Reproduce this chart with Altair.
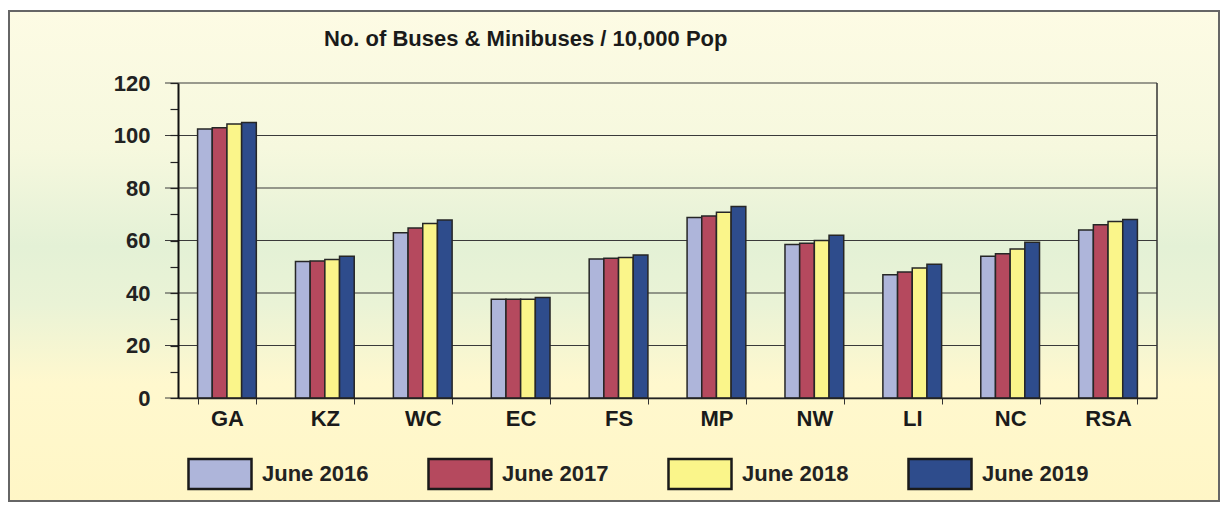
import altair as alt
import pandas as pd

REGIONS = ["GA", "KZ", "WC", "EC", "FS", "MP", "NW", "LI", "NC", "RSA"]
YEARS = ["June 2016", "June 2017", "June 2018", "June 2019"]
V2016 = [102.5, 52.0, 63.0, 37.6, 53.0, 68.8, 58.5, 47.0, 54.0, 64.0]
V2017 = [103.0, 52.2, 64.8, 37.6, 53.2, 69.3, 59.0, 48.0, 55.0, 66.0]
V2018 = [104.4, 52.8, 66.5, 37.6, 53.5, 70.8, 60.0, 49.5, 56.8, 67.2]
V2019 = [105.0, 54.0, 67.8, 38.3, 54.5, 73.0, 62.0, 51.0, 59.3, 68.0]
COLORS = ["#AEB5DA", "#B5495E", "#FAF58A", "#2E4C8C"]
GRID = [0, 20, 40, 60, 80, 100, 120]
TICKS = list(range(0, 121, 10))
TITLE = "No. of Buses & Minibuses / 10,000 Pop"

rows = []
for yr, vals in zip(YEARS, [V2016, V2017, V2018, V2019]):
    for r, v in zip(REGIONS, vals):
        rows.append({"region": r, "year": yr, "value": v})
df = pd.DataFrame(rows)

W, H = 979, 315
FONT = "Liberation Sans"

yscale = alt.Scale(domain=[0, 120], nice=False, zero=True)
yaxis = alt.Axis(
    values=TICKS,
    labelExpr="datum.value % 20 == 0 ? datum.label : ''",
    grid=False,
    domainColor="#111111",
    domainWidth=2,
    tickColor="#222222",
    tickWidth=1.2,
    tickSize=8,
    labelFont=FONT,
    labelFontSize=22,
    labelFontWeight="bold",
    labelColor="#222222",
    labelPadding=20,
    title=None,
    zindex=1,
)

gradient = alt.LinearGradient(
    gradient="linear",
    x1=0, x2=0, y1=0, y2=1,
    stops=[
        alt.GradientStop(color="#FDFBE4", offset=0),
        alt.GradientStop(color="#F6F8DE", offset=0.28),
        alt.GradientStop(color="#E4F1D6", offset=0.48),
        alt.GradientStop(color="#EAF3D6", offset=0.6),
        alt.GradientStop(color="#FFF8CE", offset=0.76),
        alt.GradientStop(color="#FFF6C6", offset=1),
    ],
)

bg = alt.Chart(alt.Data(values=[{}])).mark_rect(
    fill=gradient, stroke="#666666", strokeWidth=2
).encode(
    x=alt.value(-169), x2=alt.value(W + 62),
    y=alt.value(-72), y2=alt.value(H + 103),
)

grid = alt.Chart(pd.DataFrame({"v": GRID})).mark_rule(
    color="#3a3a3a", strokeWidth=1.2
).encode(
    y=alt.Y("v:Q", scale=yscale, axis=yaxis),
    x=alt.value(-13), x2=alt.value(W),
)

right_border = alt.Chart(alt.Data(values=[{}])).mark_rule(
    color="#333333", strokeWidth=1.5
).encode(x=alt.value(W), y=alt.value(0), y2=alt.value(H))

bars = alt.Chart(df).mark_bar(stroke="#262626", strokeWidth=1.5).encode(
    x=alt.X(
        "region:N",
        sort=REGIONS,
        scale=alt.Scale(paddingInner=0.4, paddingOuter=0.2),
        axis=alt.Axis(
            title=None,
            labelAngle=0,
            tickBand="extent",
            tickSize=6,
            tickColor="#333333",
            domainColor="#222222",
            domainWidth=1.5,
            labelFont=FONT,
            labelFontSize=22,
            labelFontWeight="bold",
            labelColor="#1a1a1a",
            labelPadding=4,
            zindex=1,
        ),
    ),
    xOffset=alt.XOffset("year:N", sort=YEARS, scale=alt.Scale(paddingInner=0, paddingOuter=0)),
    y=alt.Y("value:Q", scale=yscale, axis=yaxis),
    color=alt.Color(
        "year:N",
        sort=YEARS,
        scale=alt.Scale(domain=YEARS, range=COLORS),
        legend=alt.Legend(
            title=None,
            orient="none",
            legendX=9,
            legendY=358,
            direction="horizontal",
            columns=4,
            columnPadding=54,
            symbolType="M-1,-0.476H1V0.476H-1Z",
            symbolSize=3969,
            symbolStrokeColor="#1a1a1a",
            symbolStrokeWidth=2.5,
            symbolOpacity=1,
            labelFont=FONT,
            labelFontSize=22,
            labelFontWeight="bold",
            labelColor="#222222",
            labelOffset=9,
            labelLimit=220,
            padding=0,
        ),
    ),
)

chart = alt.layer(bg, grid, bars, right_border).properties(
    width=W,
    height=H,
    autosize=alt.AutoSizeParams(type="none"),
    padding={"left": 170, "top": 75, "right": 63, "bottom": 104},
    title=alt.TitleParams(
        TITLE,
        anchor="start",
        dx=316,
        offset=-58,
        baseline="alphabetic",
        font=FONT,
        fontSize=22,
        fontWeight="bold",
        color="#1a1a1a",
    ),
    background="#FFFFFF",
).configure_view(stroke=None)

chart.save("out.html", embed_options={"renderer": "svg", "actions": False})
